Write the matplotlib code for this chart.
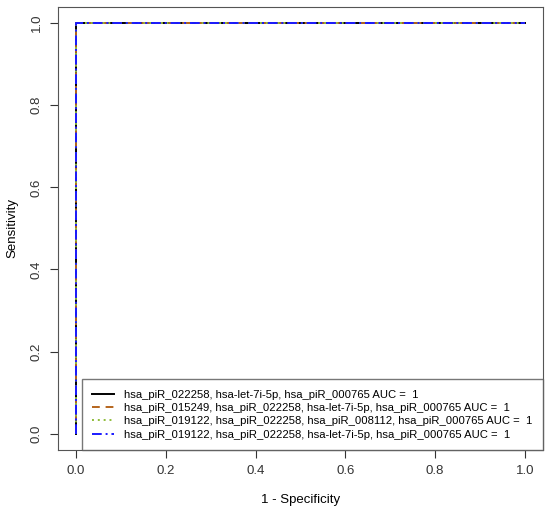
import matplotlib.pyplot as plt

plt.rcParams['font.family'] = ['Liberation Sans', 'DejaVu Sans']

# ROC curves (1 - specificity vs sensitivity), all perfect classifiers
fpr = [0.0, 0.0, 1.0]
tpr = [0.0, 1.0, 1.0]

labels = [
    'hsa_piR_022258, hsa-let-7i-5p, hsa_piR_000765 AUC =  1',
    'hsa_piR_015249, hsa_piR_022258, hsa-let-7i-5p, hsa_piR_000765 AUC =  1',
    'hsa_piR_019122, hsa_piR_022258, hsa_piR_008112, hsa_piR_000765 AUC =  1',
    'hsa_piR_019122, hsa_piR_022258, hsa-let-7i-5p, hsa_piR_000765 AUC =  1',
]
colors = ['black', '#b5651d', '#8fbc3a', '#1a1aff']
styles = ['-', (0, (4, 3)), (0, (1, 2)), (0, (5, 2, 1, 2))]

fig = plt.figure(figsize=(5.5, 5.11), dpi=100)
ax = fig.add_axes([0.1055, 0.119, 0.8815, 0.868])

for lab, c, ls in zip(labels, colors, styles):
    ax.plot(fpr, tpr, color=c, linestyle=ls, linewidth=1.4, label=lab)

ax.set_xlim(-0.04, 1.04)
ax.set_ylim(-0.04, 1.04)
ticks = [0.0, 0.2, 0.4, 0.6, 0.8, 1.0]
ax.set_xticks(ticks)
ax.set_yticks(ticks)
ax.set_xticklabels([f'{t:.1f}' for t in ticks])
ax.set_yticklabels([f'{t:.1f}' for t in ticks], rotation=90, va='center')
ax.tick_params(direction='out', length=6, labelsize=9.5, colors='#333333', pad=5)
for s in ax.spines.values():
    s.set_color('#555555')

ax.set_xlabel('1 - Specificity', fontsize=9.5, labelpad=12)
ax.set_ylabel('Sensitivity', fontsize=9.5, labelpad=9)

leg = ax.legend(loc='lower right', fontsize=8.1, frameon=True, fancybox=False,
                borderaxespad=0, handlelength=1.9, handletextpad=0.9,
                labelspacing=0.28, borderpad=0.95)
leg.get_frame().set_edgecolor('#555555')
leg.get_frame().set_linewidth(1.0)

fig.savefig('out.png', dpi=100)
